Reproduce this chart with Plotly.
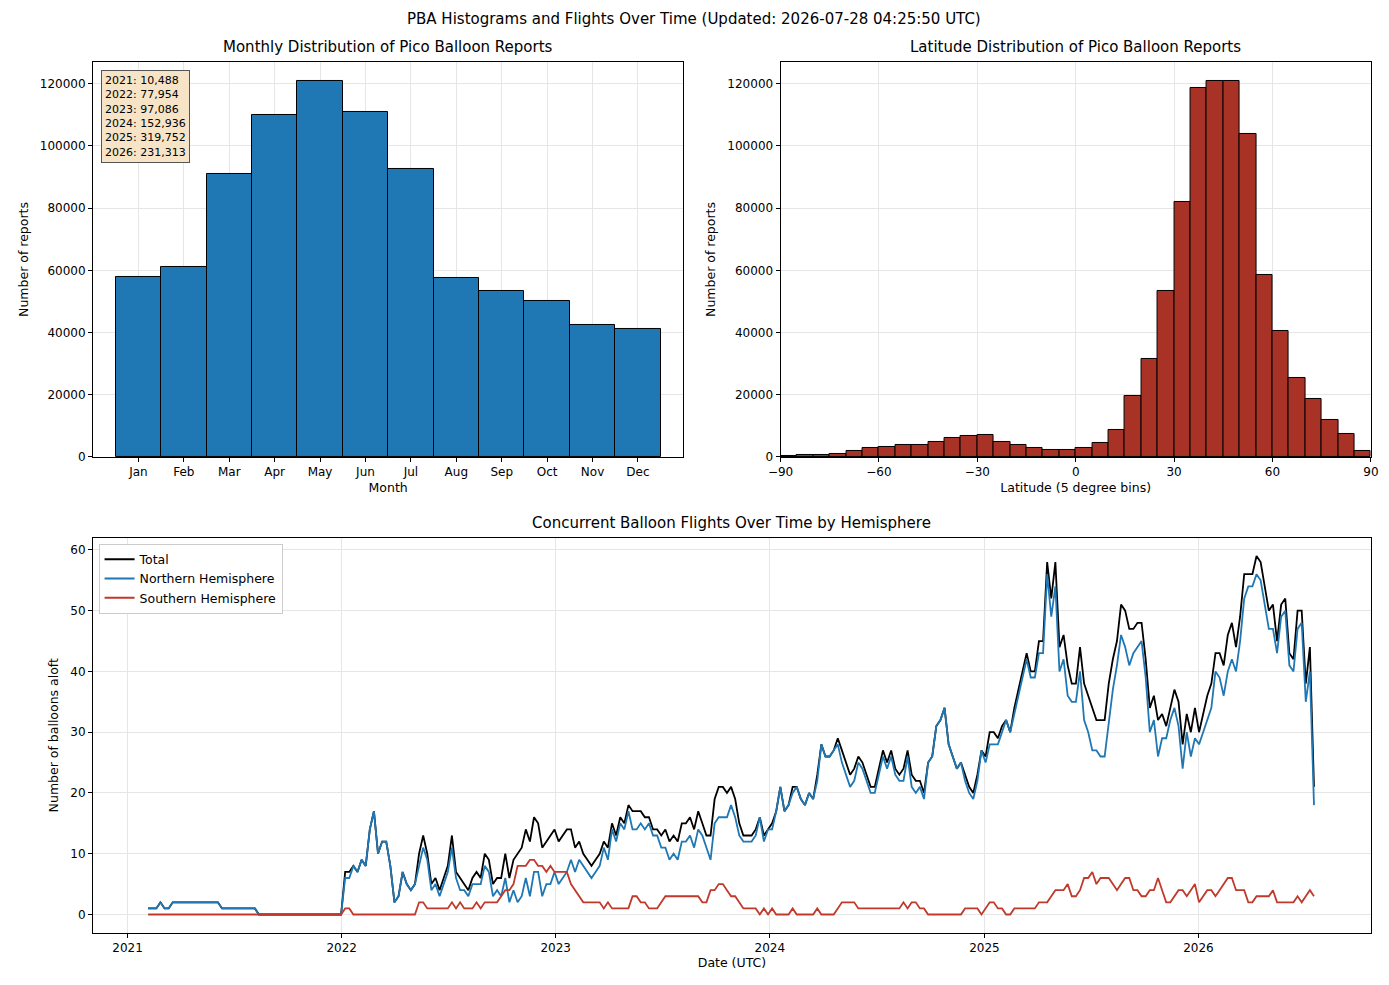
import plotly.graph_objects as go
import pandas as pd

months = ["Jan","Feb","Mar","Apr","May","Jun","Jul","Aug","Sep","Oct","Nov","Dec"]
month_counts = [58000,61000,91000,110000,121000,111000,92500,57500,53500,50000,42500,41000]

lat_bins = list(range(-90, 90, 5))
lat_counts = [300,500,600,1000,2000,3000,3200,4000,3700,4700,6000,6700,7200,4800,3800,2800,2400,2200,
              2800,4500,8600,19500,31500,53500,82000,118500,121000,121000,104000,58500,40500,25500,18500,12000,7500,2000]

year_text = "2021: 10,488<br>2022: 77,954<br>2023: 97,086<br>2024: 152,936<br>2025: 319,752<br>2026: 231,313"

total_2021 = [1,1,1,2,1,1] + [2]*12 + [1]*9 + [0]*21
south_2021 = [0]*48
total_2022 = [7,7,8,7,9,8,14,17,10,12,12,8,2,3,7,5,4,5,10,13,10,5,6,4,6,8,13,7,6,5,4,6,7,6,10,9,5,6,6,10,6,9,10,11,14,12,16,15,11,12,13,14]
south_2022 = [1,1,0,0,0,0,0,0,0,0,0,0,0,0,0,0,0,0,2,2,1,1,1,1,1,1,2,1,2,1,1,1,2,1,2,2,2,2,3,4,4,5,8,8,8,9,9,8,8,7,8,7]
total_2023 = [12,13,14,14,11,12,10,9,8,9,10,12,11,15,13,16,15,18,17,17,17,16,16,14,14,13,14,12,13,12,15,15,16,14,17,15,13,13,19,21,21,20,21,19,15,13,13,13,14,16,13,14]
south_2023 = [7,7,7,5,4,3,2,2,2,2,2,1,2,1,1,1,1,1,3,3,2,2,1,1,1,2,3,3,3,3,3,3,3,3,3,2,2,4,4,5,5,4,3,3,2,1,1,1,1,0,1,0]
total_2024 = [15,17,21,17,18,21,21,19,18,20,19,23,28,26,26,27,29,27,25,23,24,26,25,23,21,21,24,27,25,27,24,23,24,27,23,22,22,20,25,26,31,32,34,28,26,24,25,23,21,20,23,27]
south_2024 = [1,0,0,0,0,1,0,0,0,0,0,1,0,0,0,0,1,2,2,2,2,1,1,1,1,1,1,1,1,1,1,1,2,1,2,2,1,1,0,0,0,0,0,0,0,0,0,1,1,1,1,0]
total_2025 = [26,30,30,29,31,32,30,34,37,40,43,40,40,45,45,58,52,58,44,46,41,38,38,44,38,36,34,32,32,32,38,42,45,51,50,47,47,48,48,42,34,36,32,33,31,34,37,35,28,33,30,34]
south_2025 = [1,2,2,1,1,0,0,1,1,1,1,1,1,2,2,2,3,4,4,4,5,3,3,4,6,6,7,5,6,6,6,5,4,5,6,6,4,4,3,3,4,4,6,4,2,2,3,4,4,3,4,5]
total_2026 = [30,33,36,38,43,43,41,46,48,44,49,56,56,56,59,58,54,50,51,45,51,52,43,42,50,50,38,44,21]
south_2026 = [2,3,4,4,3,4,5,6,6,4,4,4,2,2,3,3,3,3,4,2,2,2,2,2,3,2,3,4,3]

total = total_2021 + total_2022 + total_2023 + total_2024 + total_2025 + total_2026
south = south_2021 + south_2022 + south_2023 + south_2024 + south_2025 + south_2026
north = [t - s for t, s in zip(total, south)]
dates = pd.date_range("2021-02-05", periods=len(total), freq="7D")

fig = go.Figure()
fig.add_trace(go.Bar(x=list(range(1,13)), y=month_counts, width=1, marker=dict(color="#1f77b4", line=dict(color="black", width=1)),
                     xaxis="x", yaxis="y", showlegend=False))
fig.add_trace(go.Bar(x=[b + 2.5 for b in lat_bins], y=lat_counts, width=5, marker=dict(color="#a93226", line=dict(color="black", width=1)),
                     xaxis="x2", yaxis="y2", showlegend=False))
fig.add_trace(go.Scatter(x=dates, y=total, mode="lines", name="Total", line=dict(color="black", width=1.8), xaxis="x3", yaxis="y3"))
fig.add_trace(go.Scatter(x=dates, y=north, mode="lines", name="Northern Hemisphere", line=dict(color="#1f77b4", width=1.8), xaxis="x3", yaxis="y3"))
fig.add_trace(go.Scatter(x=dates, y=south, mode="lines", name="Southern Hemisphere", line=dict(color="#c0392b", width=1.8), xaxis="x3", yaxis="y3"))

DX, DY = -0.0058, 0.0072
ax = dict(showline=True, linecolor="black", mirror=True, ticks="outside", ticklen=4, tickcolor="black", automargin=False,
          showgrid=True, gridcolor="#e6e6e6", zeroline=False, tickfont=dict(size=12, color="black"))
tf = dict(size=12.5, color="black")
fig.update_layout(
    width=1389, height=985, plot_bgcolor="white", paper_bgcolor="white",
    margin=dict(l=0, r=0, t=0, b=0), bargap=0,
    font=dict(family="DejaVu Sans", size=12, color="black"),
    xaxis=dict(ax, domain=[0.067 + DX, 0.492 + DX], anchor="y", range=[0.0, 13.0], tickvals=list(range(1,13)), ticktext=months,
               title=dict(text="Month", standoff=4, font=tf)),
    yaxis=dict(ax, domain=[0.537 + DY, 0.938 + DY], anchor="x", range=[0, 127000], tickvals=list(range(0, 120001, 20000)), tickformat="d",
               title=dict(text="Number of reports", standoff=8, font=tf)),
    xaxis2=dict(ax, domain=[0.562 + DX, 0.987 + DX], anchor="y2", range=[-90, 90], tickvals=[-90,-60,-30,0,30,60,90],
                title=dict(text="Latitude (5 degree bins)", standoff=4, font=tf)),
    yaxis2=dict(ax, domain=[0.537 + DY, 0.938 + DY], anchor="x2", range=[0, 127000], tickvals=list(range(0, 120001, 20000)), tickformat="d",
                title=dict(text="Number of reports", standoff=8, font=tf)),
    xaxis3=dict(ax, domain=[0.067 + DX, 0.987 + DX], anchor="y3", range=["2020-11-03", "2026-10-22"], dtick="M12", tickformat="%Y",
                title=dict(text="Date (UTC)", standoff=4, font=tf)),
    yaxis3=dict(ax, domain=[0.054 + DY, 0.455 + DY], anchor="x3", range=[-3, 62], tickvals=list(range(0, 61, 10)),
                title=dict(text="Number of balloons aloft", standoff=8, font=tf)),
    legend=dict(x=0.071 + DX, y=0.449 + DY, xanchor="left", yanchor="top", bgcolor="white", bordercolor="#cccccc", borderwidth=1,
                font=dict(size=12.5)),
    annotations=[
        dict(text="PBA Histograms and Flights Over Time (Updated: 2026-07-28 04:25:50 UTC)", x=0.5 + DX, y=0.982 + DY, xref="paper", yref="paper",
             showarrow=False, font=dict(size=15), xanchor="center", yanchor="middle"),
        dict(text="Monthly Distribution of Pico Balloon Reports", x=0.2795 + DX, y=0.953 + DY, xref="paper", yref="paper",
             showarrow=False, font=dict(size=15), xanchor="center", yanchor="middle"),
        dict(text="Latitude Distribution of Pico Balloon Reports", x=0.7745 + DX, y=0.953 + DY, xref="paper", yref="paper",
             showarrow=False, font=dict(size=15), xanchor="center", yanchor="middle"),
        dict(text="Concurrent Balloon Flights Over Time by Hemisphere", x=0.527 + DX, y=0.470 + DY, xref="paper", yref="paper",
             showarrow=False, font=dict(size=15), xanchor="center", yanchor="middle"),
        dict(text=year_text, x=0.073 + DX, y=0.930 + DY, xref="paper", yref="paper", showarrow=False, align="left",
             xanchor="left", yanchor="top", font=dict(size=11), bgcolor="#f7e4c6", bordercolor="#555555", borderwidth=1, borderpad=3),
    ],
)
fig.write_html("out.html")
